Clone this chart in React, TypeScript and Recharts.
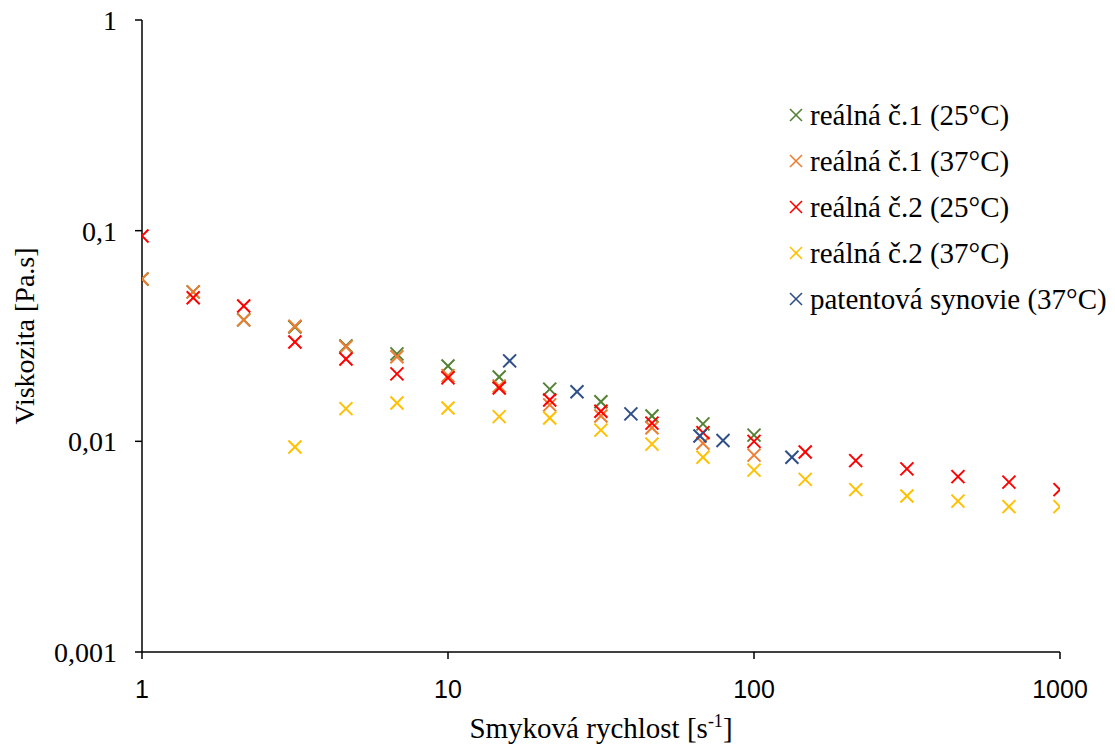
import React from 'react';
import {
  ScatterChart, Scatter, XAxis, YAxis,
} from 'recharts';

// shear rate steps of the rheometer (s^-1)
const shearRates = [1, 1.47, 2.15, 3.16, 4.64, 6.81, 10, 14.7, 21.5, 31.6, 46.4, 68.1, 100, 147, 215, 316, 464, 681, 1000];

const real1at25 = [0.059, 0.0512, 0.0377, 0.0349, 0.0284, 0.026, 0.0228, 0.0202, 0.0177, 0.0154, 0.0132, 0.0121, 0.0107];
const real1at37 = [0.059, 0.0512, 0.0377, 0.0352, 0.0281, 0.0252, 0.0205, 0.0183, 0.0149, 0.0132, 0.0116, 0.0098, 0.0086];
const real2at25 = [0.0944, 0.048, 0.0439, 0.0296, 0.0246, 0.0209, 0.02, 0.0179, 0.0157, 0.0139, 0.0122, 0.011, 0.01, 0.0089, 0.0081, 0.0074, 0.0068, 0.0064, 0.0059];
const real2at37 = [null, null, null, 0.0094, 0.0143, 0.0152, 0.0144, 0.0131, 0.0129, 0.0113, 0.0097, 0.0084, 0.0073, 0.0066, 0.0059, 0.0055, 0.0052, 0.0049, 0.0049];

const patentRates = [15.9, 26.4, 39.6, 66.6, 79.2, 133];
const patentVisc = [0.0241, 0.0172, 0.0135, 0.0106, 0.0101, 0.0084];

const xTicks = [1, 10, 100, 1000];
const yTicks = [0.001, 0.01, 0.1, 1];

const SERIF = '"Liberation Serif", "Times New Roman", serif';
const SANS = '"Liberation Sans", Arial, sans-serif';

function toPoints(xs: number[], ys: (number | null)[]) {
  return ys
    .map((y, i) => ({ x: xs[i], y }))
    .filter(p => p.y != null);
}

const series = [
  { name: 'reálná č.1 (25°C)', color: '#548235', data: toPoints(shearRates, real1at25) },
  { name: 'reálná č.1 (37°C)', color: '#ED7D31', data: toPoints(shearRates, real1at37) },
  { name: 'reálná č.2 (25°C)', color: '#FF0000', data: toPoints(shearRates, real2at25) },
  { name: 'reálná č.2 (37°C)', color: '#FFC000', data: toPoints(shearRates, real2at37) },
  { name: 'patentová synovie (37°C)', color: '#2F4F8A', data: toPoints(patentRates, patentVisc) },
];

// x-shaped marker like the Excel original
function crossShape(color: string, r = 6.5, w = 2) {
  return (props: any) => {
    const { cx, cy } = props;
    if (cx == null || cy == null) return <g />;
    return (
      <g stroke={color} strokeWidth={w}>
        <line x1={cx - r} y1={cy - r} x2={cx + r} y2={cy + r} />
        <line x1={cx - r} y1={cy + r} x2={cx + r} y2={cy - r} />
      </g>
    );
  };
}

function LegendBox() {
  return (
    <div style={{
      position: 'absolute', left: 786, top: 92,
      fontFamily: SERIF, fontSize: 29, color: '#000', lineHeight: 1,
    }}>
      {series.map(s => (
        <div key={s.name} style={{ display: 'flex', alignItems: 'center', height: 46, whiteSpace: 'nowrap' }}>
          <svg width={20} height={20} style={{ marginRight: 4 }}>
            <g stroke={s.color} strokeWidth={1.6}>
              <line x1={4} y1={4} x2={16} y2={16} />
              <line x1={4} y1={16} x2={16} y2={4} />
            </g>
          </svg>
          <span>{s.name}</span>
        </div>
      ))}
    </div>
  );
}

function XTitle({ viewBox }: any) {
  const cx = viewBox.x + viewBox.width / 2;
  return (
    <text x={cx} y={738} textAnchor="middle" fontFamily={SERIF} fontSize={29} fill="#000">
      Smyková rychlost [s
      <tspan dy={-11} fontSize={18}>-1</tspan>
      <tspan dy={11}>]</tspan>
    </text>
  );
}

function YTitle({ viewBox }: any) {
  const cy = viewBox.y + viewBox.height / 2;
  return (
    <text
      x={34} y={cy}
      transform={`rotate(-90, 34, ${cy})`}
      textAnchor="middle"
      fontFamily={SERIF} fontSize={28} fill="#000"
    >
      Viskozita [Pa.s]
    </text>
  );
}

const fmtY = (v: number) => String(v).replace('.', ',');

export default function App() {
  return (
    <div style={{ position: 'absolute', left: 0, top: 0, width: 1115, height: 747, background: '#fff' }}>
      <ScatterChart width={1115} height={747} margin={{ top: 20, right: 55, bottom: 0, left: 0 }}>
        <XAxis
          type="number"
          dataKey="x"
          scale="log"
          domain={[1, 1000]}
          ticks={xTicks}
          allowDataOverflow
          height={95}
          tick={{ fill: '#000', fontSize: 25, fontFamily: SANS }}
          tickSize={7}
          tickMargin={21}
          stroke="#000"
          strokeWidth={1.5}
          label={<XTitle />}
        />
        <YAxis
          type="number"
          dataKey="y"
          scale="log"
          domain={[0.001, 1]}
          ticks={yTicks}
          allowDataOverflow
          width={142}
          tick={{ fill: '#000', fontSize: 28, fontFamily: SERIF }}
          tickFormatter={fmtY}
          tickSize={7}
          tickMargin={18}
          stroke="#000"
          strokeWidth={1.5}
          label={<YTitle />}
        />
        {series.map(s => (
          <Scatter
            key={s.name}
            name={s.name}
            data={s.data}
            fill={s.color}
            shape={crossShape(s.color)}
            isAnimationActive={false}
          />
        ))}
      </ScatterChart>
      <LegendBox />
    </div>
  );
}
